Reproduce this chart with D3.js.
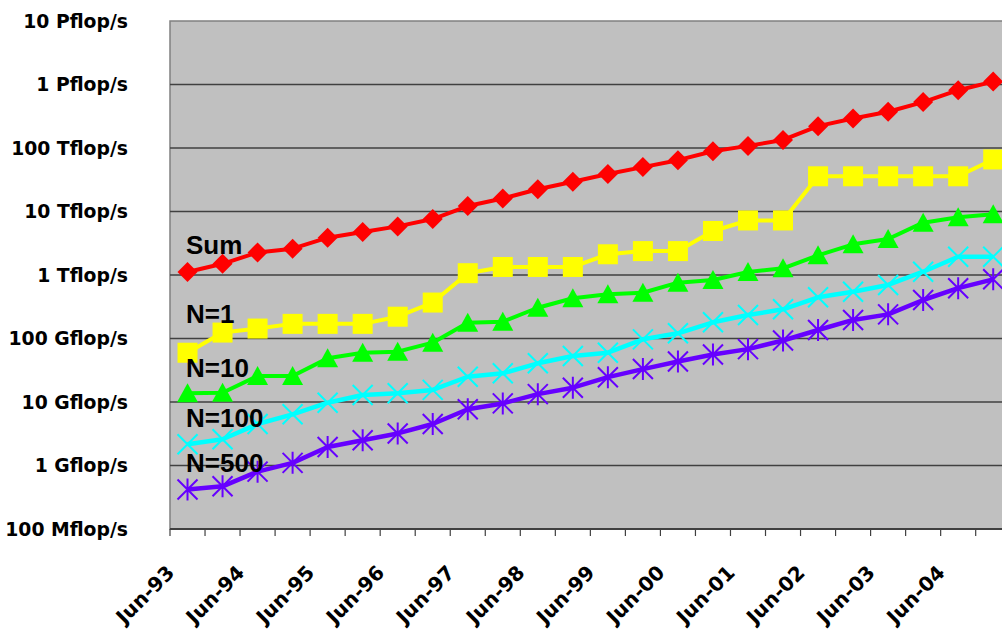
<!DOCTYPE html>
<html>
<head>
<meta charset="utf-8">
<script src="https://cdn.jsdelivr.net/npm/d3@7"></script>
<style>
  body { margin: 0; background: #fff; }
</style>
</head>
<body>
<script>
(()=>{
    const width = 1002;
    const height = 635;

    // list dates (category axis)
    const dates = ["Jun-93","Nov-93","Jun-94","Nov-94","Jun-95","Nov-95","Jun-96","Nov-96",
                   "Jun-97","Nov-97","Jun-98","Nov-98","Jun-99","Nov-99","Jun-00","Nov-00",
                   "Jun-01","Nov-01","Jun-02","Nov-02","Jun-03","Nov-03","Jun-04","Nov-04"];

    // performance in Gflop/s
    const sumPerf  = [1117, 1500, 2260, 2600, 3870, 4760, 5830, 7600, 12200, 16000, 22400, 29400,
                      38900, 50000, 64300, 88700, 108000, 134000, 221000, 291000, 372000, 528000, 813000, 1110000];
    const n1Perf   = [59.7, 124, 143.4, 170, 170, 170, 220.4, 368.2, 1068, 1338, 1338, 1338,
                      2121, 2379, 2379, 4938, 7226, 7226, 35860, 35860, 35860, 35860, 35860, 66000];
    const n10Perf  = [13.7, 14.0, 25.6, 25.6, 48.7, 59.7, 62, 86, 177, 184, 305, 430,
                      497, 526, 757, 834, 1115, 1274, 2042, 3043, 3688, 6668, 8110, 9036];
    const n100Perf = [2.16, 2.59, 4.5, 6.4, 9.75, 12.9, 13.7, 15.5, 25, 28.3, 40.7, 53,
                      59.7, 97, 120.8, 180, 234, 288, 446, 546, 697, 1127, 1941, 1941];
    const n500Perf = [0.42, 0.47, 0.8, 1.1, 1.96, 2.5, 3.2, 4.5, 7.7, 9.5, 13.3, 16.8,
                      24.6, 33, 43.5, 56, 68, 93, 136, 196, 240, 404, 620, 855];

    const seriesNames = ["Sum", "N=1", "N=10", "N=100", "N=500"];

    const yTickValues = [0.1, 1, 10, 100, 1e3, 1e4, 1e5, 1e6, 1e7];
    const yTickLabels = ["100 Mflop/s","1 Gflop/s","10 Gflop/s","100 Gflop/s","1 Tflop/s",
                         "10 Tflop/s","100 Tflop/s","1 Pflop/s","10 Pflop/s"];

    const left = 170, top = 21, bottom = 529;
    const step = 35.03;
    const right = left + step * dates.length;

    const svg = d3.create("svg")
        .attr("width", width)
        .attr("height", height)
        .attr("viewBox", [0, 0, width, height])
        .style("display", "block")
        .style("background", "#fff");

    const x = d3.scaleBand()
        .domain(dates)
        .range([left, right])
        .padding(0);

    const y = d3.scaleLog()
        .domain([0.1, 1e7])
        .range([bottom, top]);

    const cx = d => x(d) + x.bandwidth() / 2;

    // plot area
    svg.append("rect")
        .attr("x", left).attr("y", top)
        .attr("width", right - left).attr("height", bottom - top)
        .attr("fill", "#c0c0c0")
        .attr("stroke", "#808080")
        .attr("stroke-width", 1.5);

    // gridlines
    svg.append("g")
        .selectAll("line")
        .data(yTickValues.slice(1, -1))
        .join("line")
        .attr("x1", left).attr("x2", right)
        .attr("y1", d => y(d)).attr("y2", d => y(d))
        .attr("stroke", "#404040")
        .attr("stroke-width", 1.5);

    // y axis labels
    const yAxis = d3.axisLeft(y)
        .tickValues(yTickValues)
        .tickFormat((d, i) => yTickLabels[i])
        .tickSize(0)
        .tickPadding(0);

    const yg = svg.append("g")
        .attr("transform", "translate(128,0)")
        .call(yAxis);
    yg.select(".domain").remove();
    yg.selectAll("text")
        .attr("font-family", "'DejaVu Sans', Verdana, sans-serif")
        .attr("font-weight", "bold")
        .attr("font-size", "18.8px")
        .attr("fill", "#000");

    // x axis
    const xg = svg.append("g")
        .attr("transform", `translate(0,${bottom})`)
        .call(d3.axisBottom(x).tickSize(0).tickFormat(""));
    xg.select(".domain")
        .attr("d", `M${left},0H${right}`)
        .attr("stroke", "#404040")
        .attr("stroke-width", 2);

    // tick marks between categories
    xg.append("g")
        .selectAll("line")
        .data(d3.range(dates.length + 1))
        .join("line")
        .attr("x1", i => left + i * x.bandwidth())
        .attr("x2", i => left + i * x.bandwidth())
        .attr("y1", 0).attr("y2", 7)
        .attr("stroke", "#404040")
        .attr("stroke-width", 1.2);

    // every second date label, rotated
    svg.append("g")
        .selectAll("text")
        .data(dates.filter((d, i) => i % 2 === 0))
        .join("text")
        .attr("transform", d => `translate(${cx(d) - 12},${bottom + 45}) rotate(-45)`)
        .attr("text-anchor", "end")
        .attr("font-family", "'DejaVu Sans', Verdana, sans-serif")
        .attr("font-weight", "bold")
        .attr("font-size", "20px")
        .attr("fill", "#000")
        .text(d => d);

    const line = d3.line()
        .x((d, i) => cx(dates[i]))
        .y(d => y(d));

    const series = [
        { name: seriesNames[0], values: sumPerf,  color: "#ff0000", marker: "diamond", lw: 4 },
        { name: seriesNames[1], values: n1Perf,   color: "#ffff00", marker: "square",  lw: 4 },
        { name: seriesNames[2], values: n10Perf,  color: "#00ff00", marker: "triangle",lw: 4 },
        { name: seriesNames[3], values: n100Perf, color: "#00ffff", marker: "cross",   lw: 4.5 },
        { name: seriesNames[4], values: n500Perf, color: "#6600ff", marker: "star",    lw: 4.5 }
    ];

    const markerPath = (type) => {
        const p = d3.path();
        if (type === "diamond") {
            p.moveTo(0, -10); p.lineTo(10, 0); p.lineTo(0, 10); p.lineTo(-10, 0); p.closePath();
        } else if (type === "square") {
            p.rect(-10, -10, 20, 20);
        } else if (type === "triangle") {
            p.moveTo(0, -10); p.lineTo(10.5, 9); p.lineTo(-10.5, 9); p.closePath();
        } else if (type === "cross") {
            p.moveTo(-10, -10); p.lineTo(10, 10);
            p.moveTo(10, -10); p.lineTo(-10, 10);
        } else {
            p.moveTo(-10, -10); p.lineTo(10, 10);
            p.moveTo(10, -10); p.lineTo(-10, 10);
            p.moveTo(0, -11); p.lineTo(0, 11);
        }
        return p.toString();
    };

    const plot = svg.append("g");

    series.forEach(s => {
        plot.append("path")
            .attr("d", line(s.values))
            .attr("fill", "none")
            .attr("stroke", s.color)
            .attr("stroke-width", s.lw)
            .attr("stroke-linejoin", "round");

        const filled = s.marker === "diamond" || s.marker === "square" || s.marker === "triangle";
        plot.append("g")
            .selectAll("path")
            .data(s.values)
            .join("path")
            .attr("transform", (d, i) => `translate(${cx(dates[i])},${y(d)})`)
            .attr("d", markerPath(s.marker))
            .attr("fill", filled ? s.color : "none")
            .attr("stroke", s.color)
            .attr("stroke-width", filled ? 0 : 2);
    });

    // series labels inside the plot
    const labelY = [254, 323, 377, 427, 472];
    svg.append("g")
        .selectAll("text")
        .data(seriesNames)
        .join("text")
        .attr("x", 186)
        .attr("y", (d, i) => labelY[i])
        .attr("font-family", "'Liberation Sans', Arial, sans-serif")
        .attr("font-weight", "bold")
        .attr("font-size", "26px")
        .attr("fill", "#000")
        .text(d => d);

    d3.select("body").append(() => svg.node());
})()
</script>
</body>
</html>
